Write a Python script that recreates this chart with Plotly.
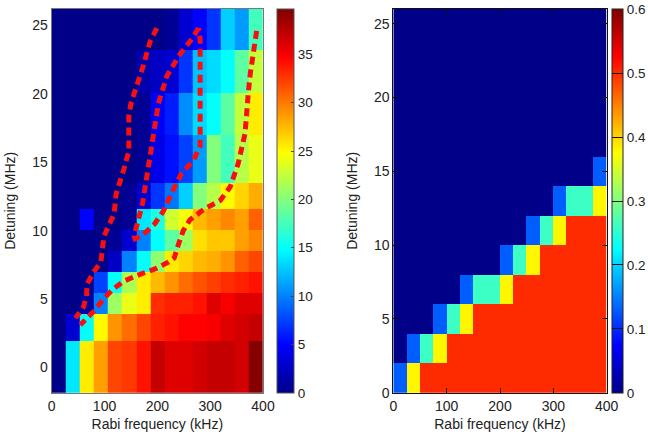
import plotly.graph_objects as go

# ---------------- data ----------------
# Left map: population vs Rabi frequency (kHz) and detuning (MHz)
left_x_edges = [0, 26.67, 53.33, 80, 106.67, 133.33, 160, 186.67, 213.33, 240,
                266.67, 293.33, 320, 346.67, 373.33, 400]
left_y_edges = [-1.85, 1.94, 3.94, 5.41, 6.94, 8.5, 10.08, 11.61, 13.51,
                17.02, 20.09, 23.18, 26.2]
left_z = [
    [0, 14, 25.5, 28.5, 32, 32.5, 34, 37, 36, 36, 36.5, 37, 37, 36.5, 39.5],
    [0, 3, 15, 25, 29, 30.5, 32, 33.5, 34, 34.7, 34.7, 35, 36, 36.5, 37],
    [0, 0, 1, 10, 21, 24, 25.5, 33, 33.5, 33.5, 34, 36, 35, 36, 36],
    [0, 0, 0, 7.5, 15, 21.5, 25.5, 27.5, 29, 30.5, 31.5, 32.3, 33, 33.5, 34],
    [0, 0, 0, 0, 2.5, 10, 15, 20.5, 25.5, 26.5, 27.5, 28, 29, 31, 32],
    [0, 0, 0, 0, 0.5, 3, 10, 15, 18.5, 21, 26, 27, 27, 28.5, 29.5],
    [0, 0, 5, 0, 0, 0.5, 14, 16, 23, 24.5, 27.5, 28.5, 29.5, 28.5, 31],
    [0, 0, 0, 0, 0, 0.5, 3, 7, 9.5, 13, 20, 22, 25, 26.5, 28],
    [0, 0, 0, 0, 0, 0, 0.5, 4, 5.5, 7.5, 11, 20, 17.5, 22, 24],
    [0, 0, 0, 0, 0, 0, 0.5, 4.5, 6, 10.5, 13.5, 15, 18.5, 22.5, 25.5],
    [0, 0, 0, 0, 0, 0, 1.5, 2.5, 3, 7, 12.5, 13.5, 15, 18.5, 22.5],
    [0, 0, 0, 0, 0, 0, 0, 0, 0.5, 3, 5, 7, 13, 11, 17.5],
]

# Red dashed contour curves on the left map
curve_a_x = [199, 186, 173, 160, 150, 146, 146, 136, 122, 118, 99, 93, 80, 67, 66, 60, 45]
curve_a_y = [24.8, 23.8, 22.0, 20.5, 19.3, 18.4, 15.8, 14.4, 12.7, 11.2, 9.6, 7.7, 7.0, 6.1, 5.2, 4.4, 3.6]

curve_b_x = [278, 265, 243, 218, 202, 194, 188, 180, 172, 164, 156, 158, 173, 195, 211, 230, 246, 268, 281, 281, 281, 278]
curve_b_y = [24.8, 24.0, 22.9, 21.3, 19.3, 17.3, 15.6, 13.6, 12.0, 10.8, 9.6, 9.4, 9.7, 10.5, 11.4, 13.0, 14.2, 15.1, 16.2, 20.0, 24.0, 24.8]

curve_c_x = [388, 382, 376, 372, 366, 353, 338, 319, 290, 262, 249, 240, 232, 221, 199, 167, 136, 114, 98, 82, 66, 54]
curve_c_y = [24.6, 23.2, 21.5, 20.0, 17.1, 14.9, 13.2, 12.2, 11.6, 10.8, 10.0, 9.0, 8.0, 7.7, 7.25, 6.8, 6.3, 5.65, 5.0, 4.2, 3.5, 3.1]

# Right map: simulation
right_x_edges = [0, 25, 50, 75, 100, 125, 150, 175, 200, 225, 250, 275, 300, 325, 350, 375, 400]
right_y_edges = [0, 2, 4, 6, 8, 10, 12, 14, 16, 18, 20, 22, 24, 26]
right_z = [
    [0.13, 0.38, 0.5, 0.5, 0.5, 0.5, 0.5, 0.5, 0.5, 0.5, 0.5, 0.5, 0.5, 0.5, 0.5, 0.5],
    [0, 0.13, 0.26, 0.38, 0.5, 0.5, 0.5, 0.5, 0.5, 0.5, 0.5, 0.5, 0.5, 0.5, 0.5, 0.5],
    [0, 0, 0, 0.13, 0.26, 0.38, 0.5, 0.5, 0.5, 0.5, 0.5, 0.5, 0.5, 0.5, 0.5, 0.5],
    [0, 0, 0, 0, 0, 0.13, 0.26, 0.26, 0.38, 0.5, 0.5, 0.5, 0.5, 0.5, 0.5, 0.5],
    [0, 0, 0, 0, 0, 0, 0, 0, 0.13, 0.26, 0.38, 0.5, 0.5, 0.5, 0.5, 0.5],
    [0, 0, 0, 0, 0, 0, 0, 0, 0, 0, 0.13, 0.26, 0.38, 0.5, 0.5, 0.5],
    [0, 0, 0, 0, 0, 0, 0, 0, 0, 0, 0, 0, 0.13, 0.26, 0.26, 0.38],
    [0, 0, 0, 0, 0, 0, 0, 0, 0, 0, 0, 0, 0, 0, 0, 0.13],
    [0] * 16,
    [0] * 16,
    [0] * 16,
    [0] * 16,
    [0] * 16,
]

x_ticks = [0, 100, 200, 300, 400]
y_ticks = [0, 5, 10, 15, 20, 25]
left_cb_ticks = [0, 5, 10, 15, 20, 25, 30, 35]
right_cb_ticks = [0, 0.1, 0.2, 0.3, 0.4, 0.5, 0.6]
right_cb_text = ["0", "0.1", "0.2", "0.3", "0.4", "0.5", "0.6"]

# ---------------- styling ----------------
jet = [[0.0, "#000088"], [0.125, "#0000ff"], [0.375, "#00ffff"],
       [0.625, "#ffff00"], [0.875, "#ff0000"], [1.0, "#800000"]]
FONT = "Liberation Sans, Arial, Helvetica, sans-serif"
TXT = "#222222"

# body margin is removed in the page (post_script), so the figure fills the window
W, H = 648, 436


def px_x(px):
    return px / W


def px_y(py):
    return 1 - py / H


top_px, bot_px = 9, 392.7
ydom = [px_y(bot_px), px_y(top_px)]
cb_len = ydom[1] - ydom[0]
cb_y = (ydom[0] + ydom[1]) / 2

fig = go.Figure()

fig.add_trace(go.Heatmap(
    x=left_x_edges, y=left_y_edges, z=left_z,
    colorscale=jet, zmin=0, zmax=39.7,
    xaxis="x", yaxis="y",
    colorbar=dict(
        x=px_x(277.3), xanchor="left", y=cb_y, yanchor="middle",
        len=cb_len, lenmode="fraction", thickness=17,
        outlinewidth=1, outlinecolor="#555555",
        tickvals=left_cb_ticks, ticks="inside", ticklen=3, tickcolor="#444444",
        tickfont=dict(family=FONT, size=13.5, color=TXT), ypad=0, xpad=0,
    ),
))

for cx, cy in [(curve_a_x, curve_a_y), (curve_b_x, curve_b_y), (curve_c_x, curve_c_y)]:
    fig.add_trace(go.Scatter(
        x=cx, y=cy, mode="lines", xaxis="x", yaxis="y",
        line=dict(color="rgb(250,15,15)", width=5, dash="8px,5px"),
        showlegend=False, hoverinfo="skip",
    ))

fig.add_trace(go.Heatmap(
    x=right_x_edges, y=right_y_edges, z=right_z,
    colorscale=jet, zmin=0, zmax=0.6005,
    xaxis="x2", yaxis="y2",
    colorbar=dict(
        x=px_x(611.7), xanchor="left", y=cb_y, yanchor="middle",
        len=cb_len, lenmode="fraction", thickness=11,
        outlinewidth=1, outlinecolor="#222222",
        tickvals=right_cb_ticks, ticktext=right_cb_text,
        ticks="inside", ticklen=11, tickcolor="#111111",
        ticklabeloverflow="allow",
        tickfont=dict(family=FONT, size=13.5, color=TXT), ypad=0, xpad=0,
    ),
))

axis_font = dict(family=FONT, size=14, color=TXT)

fig.update_layout(
    width=W, height=H,
    margin=dict(l=0, r=0, t=0, b=0, autoexpand=False),
    paper_bgcolor="white", plot_bgcolor="white",
    showlegend=False,
    xaxis=dict(domain=[px_x(51.7), px_x(263)], range=[0, 400], tickvals=x_ticks,
               showline=True, mirror=True, linecolor="#777777", linewidth=1,
               ticks="", showgrid=False, zeroline=False, tickfont=axis_font,
               automargin=False,
               title=dict(text="Rabi frequency (kHz)", font=axis_font, standoff=6),
               anchor="y"),
    yaxis=dict(domain=ydom, range=[-1.85, 26.2], tickvals=y_ticks,
               showline=True, mirror=True, linecolor="#777777", linewidth=1,
               ticks="", showgrid=False, zeroline=False, tickfont=axis_font,
               automargin=False,
               title=dict(text="Detuning (MHz)", font=axis_font, standoff=13),
               anchor="x"),
    xaxis2=dict(domain=[px_x(393.3), px_x(606.7)], range=[0, 400], tickvals=x_ticks,
                showline=True, mirror="ticks", linecolor="#111111", linewidth=1,
                ticks="inside", ticklen=5, tickcolor="#111111",
                showgrid=False, zeroline=False, tickfont=axis_font,
                automargin=False,
                title=dict(text="Rabi frequency (kHz)", font=axis_font, standoff=6),
                anchor="y2"),
    yaxis2=dict(domain=ydom, range=[0, 26], tickvals=y_ticks,
                showline=True, mirror="ticks", linecolor="#111111", linewidth=1,
                ticks="inside", ticklen=5, tickcolor="#111111",
                showgrid=False, zeroline=False, tickfont=axis_font,
                automargin=False,
                title=dict(text="Detuning (MHz)", font=axis_font, standoff=13),
                anchor="x2"),
)

fig.write_html("out.html", config={"displayModeBar": False},
               post_script="document.body.style.margin='0px';")
